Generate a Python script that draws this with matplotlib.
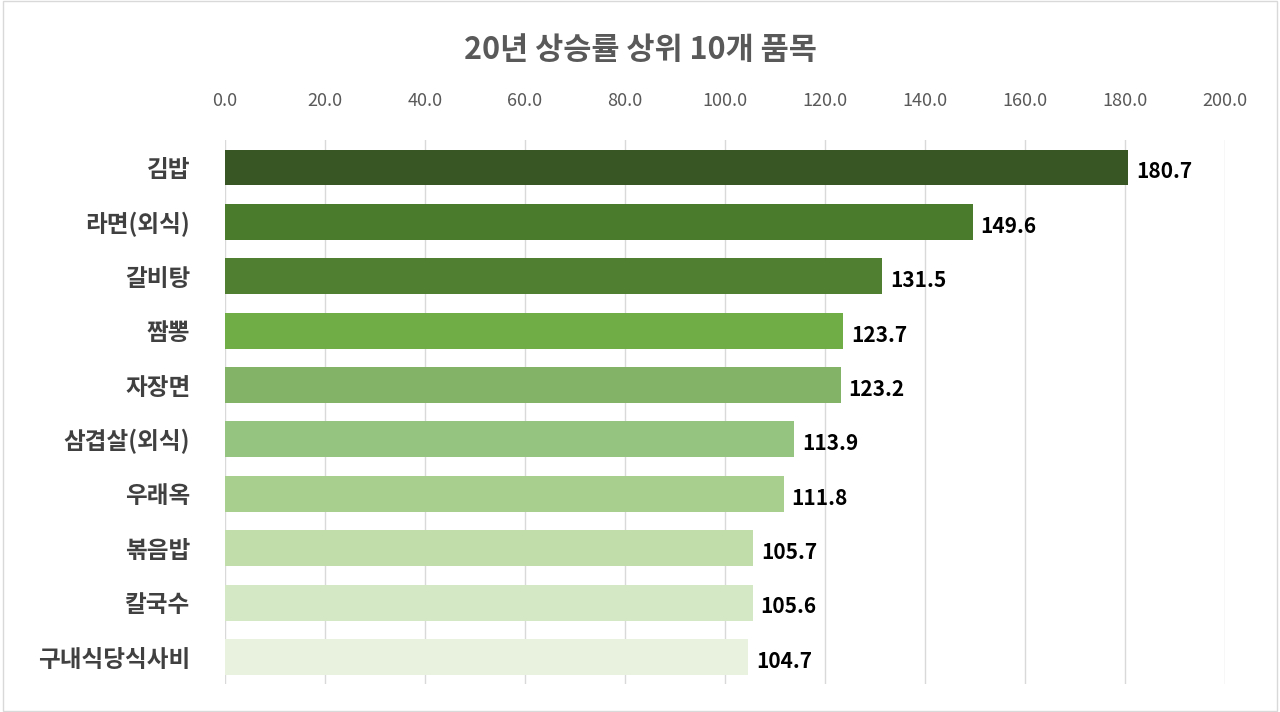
import matplotlib
matplotlib.use("Agg")
import matplotlib.pyplot as plt
from matplotlib.patches import Rectangle

plt.rcParams['font.family'] = ['Noto Sans CJK KR', 'DejaVu Sans']

categories = ["김밥", "라면(외식)", "갈비탕", "짬뽕", "자장면", "삼겹살(외식)", "우래옥", "볶음밥", "칼국수", "구내식당식사비"]
values = [180.7, 149.6, 131.5, 123.7, 123.2, 113.9, 111.8, 105.7, 105.6, 104.7]
colors = ["#375623", "#4a7a2c", "#507f31", "#70ad47", "#82b366", "#94c47f", "#a9cf8f", "#c0ddaa", "#d5e8c6", "#e8f2df"]
ticks = [0, 20, 40, 60, 80, 100, 120, 140, 160, 180, 200]

fig = plt.figure(figsize=(12.8, 7.12), dpi=100)
fig.patches.append(Rectangle((0.002, 0.002), 0.996, 0.996, transform=fig.transFigure,
                             fill=False, edgecolor="#d9d9d9", linewidth=1))
ax = fig.add_axes([0.1758, 0.039, 0.7812, 0.764])
y = list(range(len(categories)))
ax.barh(y, values, height=0.66, color=colors, zorder=3)
ax.set_ylim(len(categories) - 0.5, -0.5)
ax.set_xlim(0, 200)
ax.set_xticks(ticks)
ax.set_xticklabels([f"{t:.1f}" for t in ticks], fontsize=13, color="#595959")
ax.xaxis.tick_top()
ax.tick_params(axis='x', length=0, pad=22)
ax.set_yticks(y)
ax.set_yticklabels(categories, fontsize=17, color="#404040", fontweight='bold')
ax.tick_params(axis='y', length=0, pad=25)
ax.grid(axis='x', color="#d9d9d9", linewidth=1, zorder=0)
for s in ax.spines.values():
    s.set_visible(False)
for yi, v in zip(y, values):
    ax.text(v + 1.5, yi + 0.08, f"{v:.1f}", va='center', ha='left', fontsize=15, fontweight='bold', color="black")
fig.text(0.5, 0.93, "20년 상승률 상위 10개 품목", ha='center', va='center', fontsize=22, fontweight='bold', color="#595959")
fig.savefig("out.png", dpi=100)
